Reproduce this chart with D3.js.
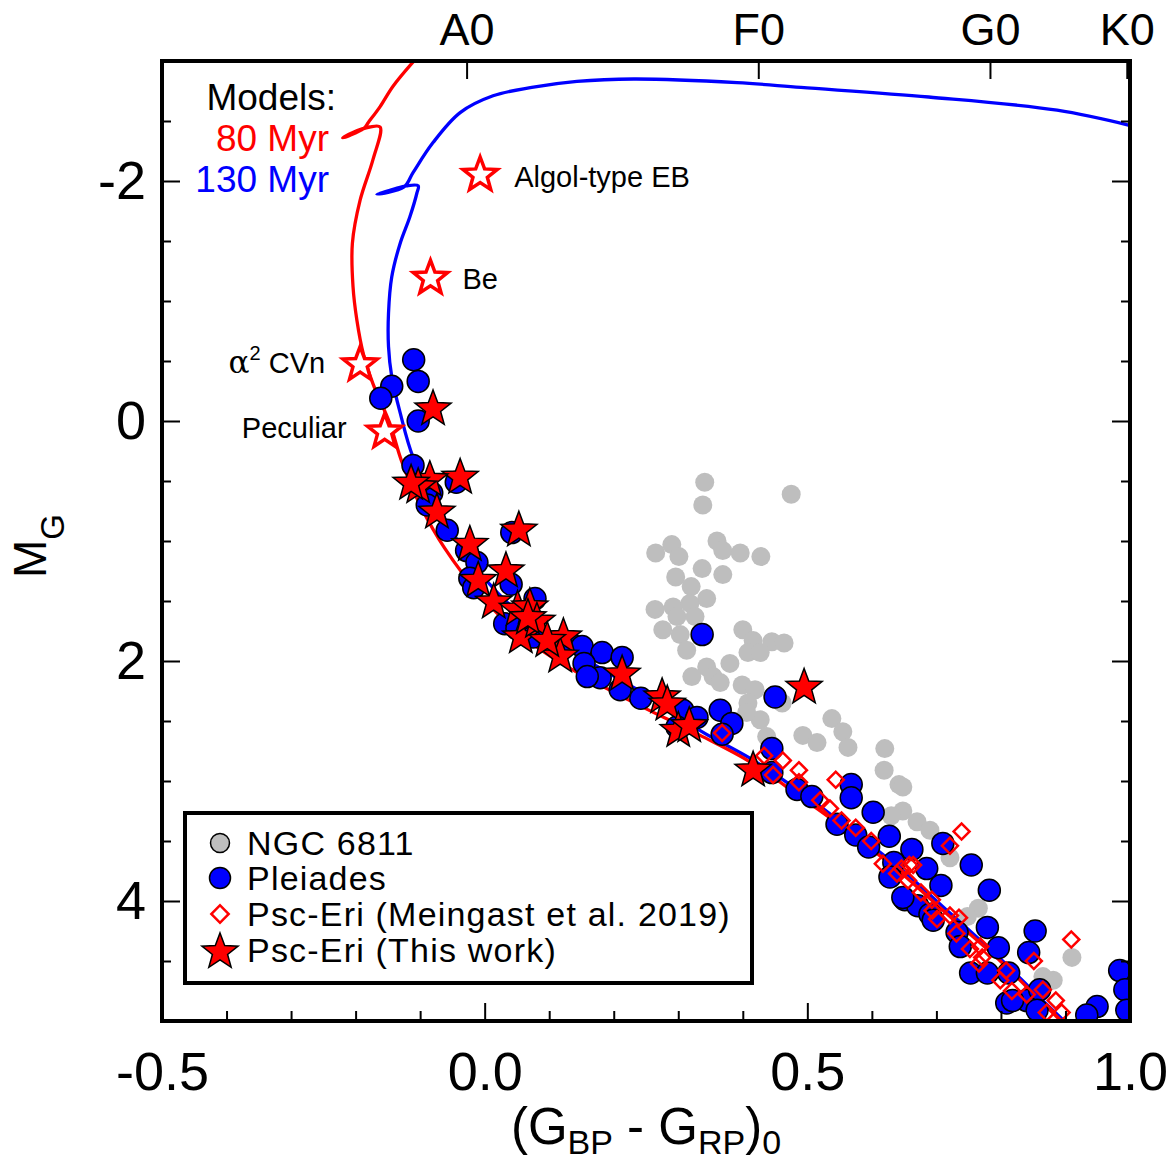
<!DOCTYPE html>
<html>
<head>
<meta charset="utf-8">
<script src="https://cdn.jsdelivr.net/npm/d3@7"></script>
<style>
body { margin: 0; background: #fff; }
text { font-family: "Liberation Sans", Arial, Helvetica, sans-serif; fill: #000; }
</style>
</head>
<body>
<svg id="cmd"></svg>
<script>
// [colour (G_BP - G_RP)_0, M_G] pairs
var ngc6811 = [[0.341,0.51],[0.338,0.70],[0.475,0.61],[0.265,1.10],[0.290,1.03],[0.301,1.13],[0.360,1.00],[0.369,1.08],[0.396,1.10],[0.428,1.13],
    [0.337,1.23],[0.369,1.28],[0.296,1.30],[0.320,1.38],[0.344,1.48],[0.264,1.57],[0.292,1.55],[0.298,1.63],[0.318,1.52],[0.276,1.74],
    [0.326,1.63],[0.303,1.78],[0.313,1.91],[0.400,1.74],[0.416,1.83],[0.445,1.84],[0.464,1.85],[0.408,1.93],[0.427,1.93],[0.380,2.02],
    [0.344,2.05],[0.321,2.13],[0.354,2.13],[0.365,2.18],[0.399,2.20],[0.419,2.24],[0.408,2.35],[0.427,2.49],[0.406,2.43],[0.461,2.35],
    [0.538,2.48],[0.555,2.59],[0.563,2.72],[0.620,2.73],[0.437,2.63],[0.493,2.62],[0.515,2.68],[0.619,2.91],[0.642,3.03],[0.648,3.25],
    [0.670,3.34],[0.690,3.41],[0.630,3.29],[0.721,3.64],[0.765,4.06],[0.748,4.13],[0.910,4.47],[0.881,4.66],[0.865,4.63],[0.648,3.05]];

var pleiades = [[-0.110,-0.51],[-0.103,-0.33],[-0.144,-0.29],[-0.161,-0.19],[-0.103,0.00],[-0.111,0.37],[-0.044,0.51],[-0.082,0.60],
    [-0.089,0.70],[-0.058,0.91],[-0.028,1.08],[0.042,0.93],[-0.012,1.18],[-0.023,1.31],[-0.017,1.39],[0.041,1.36],[0.078,1.48],
    [0.031,1.69],[0.050,1.73],[0.075,1.80],[0.132,1.85],[0.151,1.88],[0.182,1.93],[0.213,1.97],[0.154,2.02],[0.179,2.14],[0.210,2.24],
    [0.242,2.31],[0.337,1.78],[0.307,2.41],[0.329,2.47],[0.365,2.41],[0.383,2.52],[0.368,2.61],[0.450,2.30],[0.445,2.73],[0.445,2.93],
    [0.484,3.07],[0.507,3.13],[0.568,3.03],[0.568,3.14],[0.602,3.26],[0.546,3.36],[0.575,3.45],[0.627,3.46],[0.595,3.55],[0.662,3.57],
    [0.634,3.68],[0.685,3.73],[0.710,3.52],[0.754,3.70],[0.707,3.87],[0.651,3.99],[0.671,4.04],[0.690,4.11],[0.732,4.26],[0.779,4.22],
    [0.782,3.91],[0.796,4.39],[0.853,4.25],[0.843,4.43],[0.737,4.38],[0.753,4.60],[0.779,4.60],[0.812,4.60],[0.809,4.85],[0.840,4.83],
    [0.860,4.74],[0.856,4.91],[0.949,4.88],[0.933,4.95],[0.984,4.58],[0.992,4.74],[0.995,4.91],[0.628,3.80],[0.818,4.83],[0.298,2.55],
    [0.159,2.13],[0.648,3.97],[0.695,4.16]];

var meingast = [[0.368,2.60],[0.433,2.79],[0.462,2.83],[0.447,2.95],[0.487,2.91],[0.487,3.01],[0.544,2.99],[0.520,3.16],[0.535,3.23],
    [0.553,3.33],[0.575,3.39],[0.599,3.50],[0.617,3.69],[0.646,3.73],[0.658,3.70],[0.656,3.83],[0.676,3.93],[0.693,3.99],[0.701,4.15],
    [0.721,4.12],[0.735,4.14],[0.731,4.27],[0.739,3.42],[0.721,3.54],[0.752,4.40],[0.768,4.38],[0.771,4.47],[0.766,4.52],[0.808,4.58],
    [0.851,4.50],[0.909,4.32],[0.799,4.66],[0.817,4.75],[0.840,4.78],[0.865,4.74],[0.885,4.83],[0.894,4.93],[0.871,4.93],[0.639,3.77],
    [0.664,3.70],[0.694,4.08]];

var thisWork = [[-0.080,-0.10],[-0.038,0.47],[-0.085,0.49],[-0.103,0.55],[-0.114,0.52],[-0.074,0.76],[-0.023,1.03],[0.053,0.91],
    [0.033,1.25],[-0.010,1.33],[0.014,1.51],[0.051,1.57],[0.070,1.55],[0.056,1.80],[0.081,1.67],[0.067,1.64],[0.122,1.80],[0.117,1.96],
    [0.097,1.83],[0.213,2.11],[0.275,2.30],[0.283,2.36],[0.300,2.58],[0.317,2.54],[0.416,2.91],[0.495,2.22]];

// peculiar members, drawn as open stars
var specialLabels = ["Algol-type EB", "Be", "α2 CVn", "Peculiar"];
var specialStars = [[-0.007,-2.05],[-0.084,-1.19],[-0.193,-0.47],[-0.155,0.09]];

// isochrones
var iso80 = [[-0.108,-3.01],[-0.142,-2.79],[-0.162,-2.62],[-0.180,-2.49],[-0.187,-2.44],[-0.209,-2.38],[-0.220,-2.36],[-0.206,-2.40],
    [-0.178,-2.45],[-0.162,-2.45],[-0.173,-2.18],[-0.193,-1.84],[-0.205,-1.48],[-0.204,-1.12],[-0.198,-0.84],[-0.188,-0.56],
    [-0.173,-0.31],[-0.147,0.02],[-0.129,0.33],[-0.100,0.70],[-0.062,1.06],[-0.007,1.45],[0.055,1.78],[0.132,2.06],[0.225,2.33],
    [0.334,2.62],[0.411,2.84],[0.489,3.13],[0.566,3.43],[0.644,3.76],[0.721,4.13],[0.799,4.50],[0.861,4.83],[0.908,5.08]];
var iso130 = [[1.01,-2.45],[0.887,-2.59],[0.688,-2.70],[0.490,-2.78],[0.391,-2.82],[0.231,-2.85],[0.143,-2.83],[0.073,-2.78],
    [0.013,-2.71],[-0.038,-2.57],[-0.080,-2.32],[-0.111,-2.07],[-0.125,-1.95],[-0.167,-1.89],[-0.142,-1.93],[-0.121,-1.96],
    [-0.103,-1.96],[-0.105,-1.90],[-0.116,-1.70],[-0.131,-1.48],[-0.144,-1.20],[-0.149,-0.90],[-0.149,-0.62],[-0.144,-0.37],
    [-0.131,-0.07],[-0.111,0.30],[-0.077,0.66],[-0.038,1.03],[0.016,1.41],[0.086,1.74],[0.179,2.06],[0.272,2.35],[0.334,2.58],
    [0.411,2.81],[0.489,3.09],[0.566,3.40],[0.644,3.73],[0.721,4.10],[0.799,4.48],[0.861,4.81],[0.908,5.05]];

var isoLabels = ["80 Myr", "130 Myr"];
var spTypes = ["A0", "F0", "G0", "K0"];
var spColors = [-0.028, 0.424, 0.783, 0.995];
var xMajor = [-0.5, 0.0, 0.5, 1.0];
var yMajor = [-2, 0, 2, 4];
var legendLabels = ["NGC 6811", "Pleiades", "Psc-Eri (Meingast et al. 2019)", "Psc-Eri (This work)"];

var dim = {width: 1172, height: 1166};
var margin = {left: 162, right: 42, top: 61, bottom: 145};

var svg = d3.select("#cmd")
    .attr("width", dim.width)
    .attr("height", dim.height);

var x = d3.scaleLinear().domain([-0.5, 1.0]).range([margin.left, dim.width - margin.right]);
var y = d3.scaleLinear().domain([-3, 5]).range([margin.top, dim.height - margin.bottom]);

var red = "#ff0000", blue = "#0000ff", grey = "#bebebe";

// five point star as a d3 symbol type, size = outer radius squared
var starType = {
    draw: function(ctx, size) {
        var R = Math.sqrt(size), r = R * 0.42;
        for (var i = 0; i < 10; i++) {
            var rad = i % 2 ? r : R;
            var a = -Math.PI / 2 + i * Math.PI / 5;
            if (i == 0) ctx.moveTo(rad * Math.cos(a), rad * Math.sin(a));
            else ctx.lineTo(rad * Math.cos(a), rad * Math.sin(a));
        }
        ctx.closePath();
    }
};
var star = d3.symbol().type(starType);
var diamond = d3.symbol().type(d3.symbolSquare).size(128);

svg.append("clipPath").attr("id", "plotArea")
    .append("rect")
    .attr("x", x(-0.5)).attr("y", y(-3))
    .attr("width", x(1.0) - x(-0.5)).attr("height", y(5) - y(-3));

var plot = svg.append("g").attr("clip-path", "url(#plotArea)");

plot.append("g").selectAll("circle")
    .data(ngc6811).enter()
    .append("circle")
    .attr("cx", d => x(d[0]))
    .attr("cy", d => y(d[1]))
    .attr("r", 9.5)
    .attr("fill", grey);

var line = d3.line().x(d => x(d[0])).y(d => y(d[1])).curve(d3.curveCatmullRom.alpha(0.5));

plot.append("path").datum(iso130)
    .attr("d", line).attr("fill", "none")
    .attr("stroke", blue).attr("stroke-width", 3.3);
plot.append("path").datum(iso80)
    .attr("d", line).attr("fill", "none")
    .attr("stroke", red).attr("stroke-width", 3.3);

plot.append("g").selectAll("circle")
    .data(pleiades).enter()
    .append("circle")
    .attr("cx", d => x(d[0]))
    .attr("cy", d => y(d[1]))
    .attr("r", 11)
    .attr("fill", blue)
    .attr("stroke", "#000").attr("stroke-width", 1.5);

plot.append("g").selectAll("path")
    .data(meingast).enter()
    .append("path")
    .attr("d", diamond)
    .attr("transform", d => "translate(" + x(d[0]) + "," + y(d[1]) + ") rotate(45)")
    .attr("fill", "none")
    .attr("stroke", red).attr("stroke-width", 2.5);

plot.append("g").selectAll("path")
    .data(thisWork).enter()
    .append("path")
    .attr("d", star.size(19 * 19))
    .attr("transform", d => "translate(" + x(d[0]) + "," + y(d[1]) + ")")
    .attr("fill", red)
    .attr("stroke", "#000").attr("stroke-width", 1.5);

plot.append("g").selectAll("path")
    .data(specialStars).enter()
    .append("path")
    .attr("d", star.size(18 * 18))
    .attr("transform", d => "translate(" + x(d[0]) + "," + y(d[1]) + ")")
    .attr("fill", "#fff")
    .attr("stroke", red).attr("stroke-width", 3.5);

// labels beside the open stars
var ann = svg.append("g").attr("font-size", 29);
ann.append("text").attr("x", x(specialStars[0][0]) + 34).attr("y", y(specialStars[0][1]) + 12).text(specialLabels[0]);
ann.append("text").attr("x", x(specialStars[1][0]) + 32).attr("y", y(specialStars[1][1]) + 11).text(specialLabels[1]);
var cvn = ann.append("text").attr("x", x(specialStars[2][0]) - 35).attr("y", y(specialStars[2][1]) + 8)
    .attr("text-anchor", "end");
cvn.append("tspan").attr("font-family", "'DejaVu Serif', 'Liberation Serif', serif").attr("font-size", 31).text(specialLabels[2][0]);
cvn.append("tspan").attr("font-size", 20).attr("dy", -13).text(specialLabels[2][1]);
cvn.append("tspan").attr("dy", 13).text(specialLabels[2].slice(2));
ann.append("text").attr("x", x(specialStars[3][0]) - 38).attr("y", y(specialStars[3][1]) + 6)
    .attr("text-anchor", "end").text(specialLabels[3]);

// model key
var key = svg.append("g").attr("font-size", 37).attr("text-anchor", "end");
key.append("text").attr("x", 336).attr("y", 110).text("Models:");
key.append("text").attr("x", 329).attr("y", 151).style("fill", red).text(isoLabels[0]);
key.append("text").attr("x", 329).attr("y", 192).style("fill", blue).text(isoLabels[1]);

// axes
function styleAxis(g) {
    g.select(".domain").remove();
    g.selectAll(".tick line").attr("stroke", "#000").attr("stroke-width", 2);
    g.selectAll(".tick text").attr("font-family", "'Liberation Sans', Arial, sans-serif").attr("fill", "#000");
}

var xMinor = d3.range(-4, 10).map(i => i / 10).filter(v => xMajor.indexOf(v) < 0);
var yMinor = d3.range(-5, 10).map(i => i / 2).filter(v => yMajor.indexOf(v) < 0);

svg.append("g").attr("transform", "translate(0," + y(5) + ")")
    .call(d3.axisBottom(x).tickValues(xMajor).tickSize(-18).tickPadding(31).tickFormat(d => d.toFixed(1)))
    .call(styleAxis)
    .selectAll(".tick text").attr("font-size", 54);
svg.append("g").attr("transform", "translate(0," + y(5) + ")")
    .call(d3.axisBottom(x).tickValues(xMinor).tickSize(-10).tickFormat(""))
    .call(styleAxis);

svg.append("g").attr("transform", "translate(" + x(-0.5) + ",0)")
    .call(d3.axisLeft(y).tickValues(yMajor).tickSize(-18).tickPadding(16).tickFormat(d => String(d)))
    .call(styleAxis)
    .selectAll(".tick text").attr("font-size", 54);
svg.append("g").attr("transform", "translate(" + x(-0.5) + ",0)")
    .call(d3.axisLeft(y).tickValues(yMinor).tickSize(-9).tickFormat(""))
    .call(styleAxis);

svg.append("g").attr("transform", "translate(" + x(1.0) + ",0)")
    .call(d3.axisRight(y).tickValues(yMajor).tickSize(-18).tickFormat(""))
    .call(styleAxis);
svg.append("g").attr("transform", "translate(" + x(1.0) + ",0)")
    .call(d3.axisRight(y).tickValues(yMinor).tickSize(-9).tickFormat(""))
    .call(styleAxis);

svg.append("g").attr("transform", "translate(0," + y(-3) + ")")
    .call(d3.axisTop(x).tickValues(spColors).tickSize(-18).tickPadding(16).tickFormat((d, i) => spTypes[i]))
    .call(styleAxis)
    .selectAll(".tick text").attr("font-size", 45);

// frame
svg.append("rect")
    .attr("x", x(-0.5)).attr("y", y(-3))
    .attr("width", x(1.0) - x(-0.5)).attr("height", y(5) - y(-3))
    .attr("fill", "none").attr("stroke", "#000").attr("stroke-width", 4);

// axis titles
var xt = svg.append("text").attr("x", (x(-0.5) + x(1.0)) / 2).attr("y", 1144)
    .attr("text-anchor", "middle").attr("font-size", 51);
xt.append("tspan").text("(G");
xt.append("tspan").attr("font-size", 34).attr("dy", 10).text("BP");
xt.append("tspan").attr("dy", -10).text(" - G");
xt.append("tspan").attr("font-size", 34).attr("dy", 10).text("RP");
xt.append("tspan").attr("dy", -10).text(")");
xt.append("tspan").attr("font-size", 34).attr("dy", 10).text("0");

var yt = svg.append("text").attr("transform", "translate(46,578) rotate(-90)").attr("font-size", 46);
yt.append("tspan").text("M");
yt.append("tspan").attr("font-size", 33).attr("dy", 18).text("G");

// legend
var leg = svg.append("g").attr("transform", "translate(185,813)");
leg.append("rect").attr("width", 567).attr("height", 170)
    .attr("fill", "#fff").attr("stroke", "#000").attr("stroke-width", 4);
var rowY = [30, 65, 101, 137];
leg.append("circle").attr("cx", 35).attr("cy", rowY[0]).attr("r", 9.5)
    .attr("fill", grey).attr("stroke", "#000").attr("stroke-width", 1.5);
leg.append("circle").attr("cx", 35).attr("cy", rowY[1]).attr("r", 10.5)
    .attr("fill", blue).attr("stroke", "#000").attr("stroke-width", 1.5);
leg.append("path").attr("d", d3.symbol().type(d3.symbolSquare).size(150))
    .attr("transform", "translate(35," + rowY[2] + ") rotate(45)")
    .attr("fill", "#fff").attr("stroke", red).attr("stroke-width", 2.5);
leg.append("path").attr("d", star.size(19 * 19))
    .attr("transform", "translate(35," + (rowY[3] + 2) + ")")
    .attr("fill", red).attr("stroke", "#000").attr("stroke-width", 1.5);
leg.selectAll("text.lab")
    .data(legendLabels).enter()
    .append("text").attr("class", "lab")
    .attr("x", 62)
    .attr("y", (d, i) => rowY[i])
    .attr("dy", "0.36em")
    .attr("font-size", 34)
    .attr("letter-spacing", 1.2)
    .text(d => d);
</script>
</body>
</html>
